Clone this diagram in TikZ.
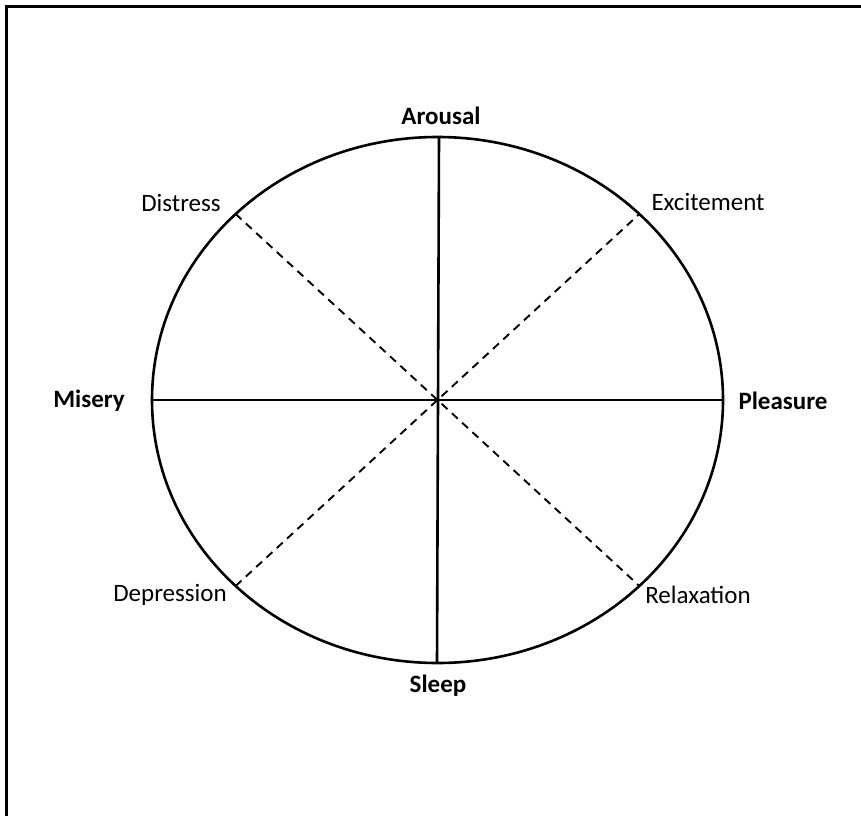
\documentclass[tikz,border=0pt]{standalone}
\usepackage{fontspec}
\setmainfont{Carlito}
\usetikzlibrary{calc}
\begin{document}
\begin{tikzpicture}[x=1pt,y=-1pt,
	mood/.style={font=\fontsize{25}{28}\selectfont, inner sep=0pt},
	axis/.style={mood, font=\fontsize{25}{28}\selectfont\bfseries},
	rim/.style={line width=2.6pt},
	diag/.style={line width=1.9pt, dash pattern=on 8pt off 6pt}
	]
	\useasboundingbox (0,0) rectangle (861,816);
	% frame (only top and left edges show)
	\draw[line width=3pt] (861,6.5) -- (6.5,6.5) -- (6.5,816);
	% circumplex
	\coordinate (c) at (437.5,400);
	\draw[rim] (c) ellipse [x radius=285.5, y radius=263];
	\coordinate (top) at (439,137);
	\coordinate (bot) at (437,663);
	\coordinate (lft) at (152,400);
	\coordinate (rgt) at (723,400);
	\coordinate (ne) at ($(c)+(201.9,-186)$);
	\coordinate (nw) at ($(c)+(-201.9,-186)$);
	\coordinate (se) at ($(c)+(201.9,186)$);
	\coordinate (sw) at ($(c)+(-201.9,186)$);
	\draw[rim] (top) -- (bot);
	\draw[rim] (lft) -- (rgt);
	\draw[diag] (nw) -- (se);
	\draw[diag] (sw) -- (ne);
	% labels
	\node[axis] (arousal) at (441,116) {Arousal};
	\node[axis] (sleep) at (438,686) {Sleep};
	\node[axis] (misery) at (89,401) {Misery};
	\node[axis] (pleasure) at (783,401) {Pleasure};
	\node[mood] (distress) at (181,203) {Distress};
	\node[mood] (excite) at (708,202) {Excitement};
	\node[mood] (depress) at (170,595) {Depression};
	\node[mood] (relax) at (698,595) {Relaxation};
\end{tikzpicture}
\end{document}
